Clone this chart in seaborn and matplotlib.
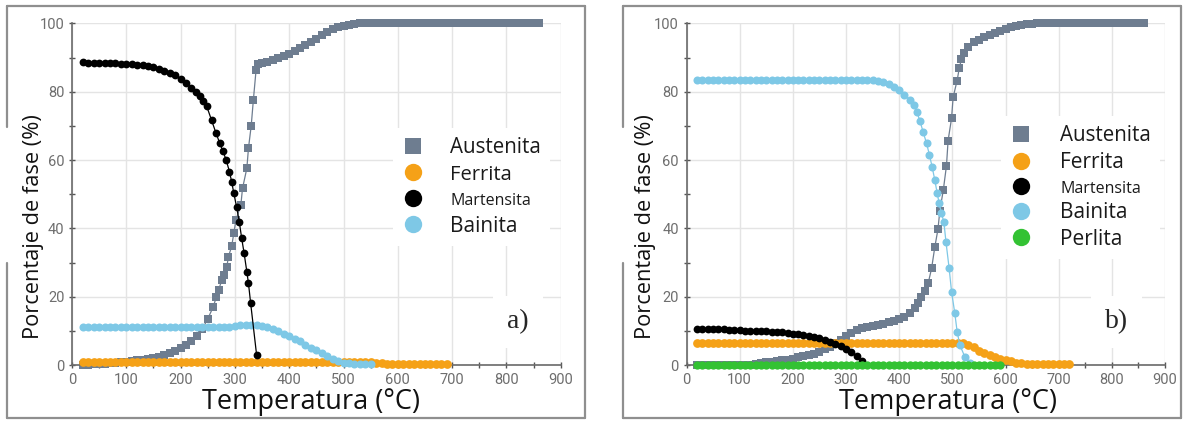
import matplotlib
matplotlib.use("Agg")
import matplotlib.pyplot as plt
import seaborn as sns
import pandas as pd
from matplotlib.lines import Line2D
from matplotlib.ticker import MultipleLocator

# ---------------- Panel a) ----------------
A_T_AUS = [20, 30, 40, 50, 60, 70, 80, 90, 100, 110, 120, 130, 140, 150, 160, 170, 180, 190, 200, 210, 220, 230,
           240, 250, 260, 266, 270, 276, 280, 285, 288, 294, 298, 302, 311, 314, 322, 325, 330, 334, 339, 342,
           350, 360, 370, 380, 390, 400, 410, 420, 430, 440, 450, 460, 470, 480, 490, 500, 510, 520,
           530, 540, 550, 560, 570, 580, 590, 600, 610, 620, 630, 640, 650, 660, 670, 680, 690, 700, 710, 720,
           730, 740, 750, 760, 770, 780, 790, 800, 810, 820, 830, 840, 850, 860]
A_AUS = [0.0, 0.1, 0.2, 0.3, 0.4, 0.5, 0.6, 0.8, 1.0, 1.2, 1.4, 1.6, 1.8, 2.0, 2.4, 2.9, 3.5, 4.2, 5.0, 6.0, 7.0, 8.4,
         10.5, 13.5, 17.0, 20.0, 22.0, 24.9, 26.5, 28.6, 31.7, 34.7, 38.6, 42.5, 46.9, 51.7, 57.6, 63.5, 70.0, 77.6, 86.4, 88.2,
         88.5, 88.8, 89.2, 89.8, 90.5, 91.2, 92.0, 92.8, 93.7, 94.6, 95.6, 96.6, 97.5, 98.3, 99.0, 99.4, 99.7, 99.9,
         100, 100, 100, 100, 100, 100, 100, 100, 100, 100, 100, 100, 100, 100, 100, 100, 100, 100, 100, 100,
         100, 100, 100, 100, 100, 100, 100, 100, 100, 100, 100, 100, 100, 100]

A_T_FER = [20, 30, 40, 50, 60, 70, 80, 90, 100, 110, 120, 130, 140, 150, 160, 170, 180, 190, 200, 210, 220, 230,
           240, 250, 260, 270, 280, 290, 300, 310, 320, 330, 340, 350, 360, 370, 380, 390, 400, 410, 420, 430,
           440, 450, 460, 470, 480, 490, 500, 510, 520, 530, 540, 550, 560, 570, 580, 590, 600, 610, 620, 630,
           640, 650, 660, 670, 680, 690]
A_FER = [1.0, 1.0, 1.0, 1.0, 1.0, 1.0, 1.0, 1.0, 1.0, 1.0, 1.0, 1.0, 1.0, 1.0, 1.0, 1.0, 1.0, 1.0, 1.0, 1.0, 1.0, 1.0,
         1.0, 1.0, 1.0, 1.0, 1.0, 1.0, 1.0, 1.0, 1.0, 1.0, 1.0, 1.0, 1.0, 1.0, 1.0, 1.0, 1.0, 1.0, 1.0, 1.0,
         1.0, 1.0, 1.0, 1.0, 1.0, 1.0, 1.0, 1.0, 1.0, 1.0, 1.0, 0.9, 0.7, 0.5, 0.4, 0.3, 0.3, 0.3, 0.3, 0.3,
         0.3, 0.3, 0.3, 0.3, 0.3, 0.3]

A_T_MAR = [20, 30, 40, 50, 60, 70, 80, 90, 100, 110, 120, 130, 140, 150, 160, 170, 180, 190, 200, 210, 220,
           228, 236, 242, 248, 257, 265, 272, 278, 284, 290, 294, 298, 303, 308, 312.5, 317, 322, 325, 329, 340]
A_MAR = [88.6, 88.5, 88.4, 88.4, 88.4, 88.4, 88.3, 88.2, 88.1, 88.0, 87.9, 87.8, 87.5, 87.2, 86.8, 86.2, 85.6, 84.8,
         83.8, 82.6, 81.2,
         79.8, 78.8, 77.3, 75.8, 71.7, 68.0, 65.0, 62.6, 60.0, 56.6, 53.7, 50.3, 46.4, 42.0, 37.1, 32.7, 27.3, 23.9,
         18.1, 2.9]

A_T_BAI = [20, 30, 40, 50, 60, 70, 80, 90, 100, 110, 120, 130, 140, 150, 160, 170, 180, 190, 200, 210, 220, 230,
           240, 250, 260, 270, 280, 290, 300, 310, 320, 330, 340, 350, 360, 370, 380, 390, 400, 410, 420, 430,
           440, 450, 460, 470, 480, 490, 500, 510, 520, 530, 540, 550]
A_BAI = [11.0, 11.0, 11.0, 11.0, 11.0, 11.0, 11.0, 11.0, 11.0, 11.0, 11.0, 11.0, 11.0, 11.0, 11.0, 11.0, 11.0, 11.0,
         11.0, 11.0, 11.0, 11.0, 11.0, 11.0, 11.0, 11.0, 11.0, 11.2, 11.5, 11.7, 11.8, 11.8, 11.7, 11.4, 11.0, 10.5,
         9.9, 9.2, 8.5, 7.7, 6.9, 6.0, 5.1, 4.3, 3.4, 2.6, 1.9, 1.2, 0.7, 0.5, 0.4, 0.4, 0.4, 0.4]

# ---------------- Panel b) ----------------
B_T_AUS = [20, 30, 40, 50, 60, 70, 80, 90, 100, 110, 120, 130, 140, 150, 160, 170, 180, 190, 200, 210, 220, 230,
           240, 250, 260, 270, 280, 290, 300, 310, 320, 330, 340, 350, 360, 370, 380, 390, 400, 410, 420, 430,
           436, 442, 448, 454.5, 461, 467, 473, 476.5, 483, 489, 492, 498.5, 501.5, 509, 513, 517, 522,
           530, 540, 550, 560, 570, 580, 590, 600, 610, 620, 630, 640, 650, 660, 670, 680, 690, 700, 710, 720,
           730, 740, 750, 760, 770, 780, 790, 800, 810, 820, 830, 840, 850, 860]
B_AUS = [0.0, 0.0, 0.0, 0.0, 0.0, 0.0, 0.0, 0.0, 0.0, 0.0, 0.0, 0.4, 0.6, 0.8, 1.0, 1.2, 1.4, 1.6, 1.9, 2.2, 2.5, 2.9,
         3.3, 3.9, 4.6, 5.4, 6.3, 7.4, 8.4, 9.3, 10.2, 10.8, 11.2, 11.5, 11.8, 12.1, 12.5, 12.9, 13.4, 14.1, 15.1, 16.8,
         18.2, 20.0, 21.8, 23.9, 28.3, 34.5, 39.8, 45.2, 51.2, 58.4, 65.7, 72.2, 78.4, 83.3, 86.9, 89.5, 91.3,
         93.0, 94.5, 95.3, 96.0, 96.6, 97.3, 97.9, 98.4, 98.9, 99.3, 99.6, 99.8, 99.9, 100, 100, 100, 100, 100, 100, 100,
         100, 100, 100, 100, 100, 100, 100, 100, 100, 100, 100, 100, 100, 100]

B_T_FER = [20, 30, 40, 50, 60, 70, 80, 90, 100, 110, 120, 130, 140, 150, 160, 170, 180, 190, 200, 210, 220, 230,
           240, 250, 260, 270, 280, 290, 300, 310, 320, 330, 340, 350, 360, 370, 380, 390, 400, 410, 420, 430,
           440, 450, 460, 470, 480, 490, 500, 510, 520, 530, 540, 550, 560, 570, 580, 590, 600, 610, 620, 630,
           640, 650, 660, 670, 680, 690, 700, 710, 720]
B_FER = [6.5, 6.5, 6.5, 6.5, 6.5, 6.5, 6.5, 6.5, 6.5, 6.5, 6.5, 6.5, 6.5, 6.5, 6.5, 6.5, 6.5, 6.5, 6.5, 6.5, 6.5, 6.5,
         6.5, 6.5, 6.5, 6.5, 6.5, 6.5, 6.5, 6.5, 6.5, 6.5, 6.5, 6.5, 6.5, 6.5, 6.5, 6.5, 6.5, 6.5, 6.5, 6.5,
         6.5, 6.5, 6.5, 6.5, 6.5, 6.5, 6.5, 6.5, 6.5, 6.0, 5.2, 4.2, 3.5, 2.9, 2.3, 1.9, 1.5, 1.1, 0.7, 0.5,
         0.4, 0.3, 0.2, 0.2, 0.2, 0.2, 0.2, 0.2, 0.2]

B_T_MAR = [20, 30, 40, 50, 60, 70, 80, 90, 100, 110, 120, 130, 140, 150, 160, 170, 180, 190, 200, 210, 220, 230,
           240, 250, 260, 270, 280, 290, 300, 310, 320, 330]
B_MAR = [10.5, 10.5, 10.5, 10.4, 10.4, 10.4, 10.3, 10.3, 10.2, 10.1, 10.1, 10.0, 10.0, 9.9, 9.8, 9.7, 9.6, 9.4, 9.2,
         9.0, 8.8, 8.5, 8.2, 7.8, 7.4, 6.8, 6.2, 5.7, 4.7, 3.7, 2.6, 1.3]

B_T_BAI = [20, 30, 40, 50, 60, 70, 80, 90, 100, 110, 120, 130, 140, 150, 160, 170, 180, 190, 200, 210, 220, 230,
           240, 250, 260, 270, 280, 290, 300, 310, 320, 330, 340, 350, 360, 370, 380, 390, 400, 410, 420,
           427, 433, 439, 445, 451.5, 457, 462, 467, 471.5, 475, 479.5, 484, 488, 494, 498.5, 504.7, 509, 514, 523.5, 533]
B_BAI = [83.5, 83.5, 83.5, 83.5, 83.5, 83.5, 83.5, 83.5, 83.5, 83.5, 83.5, 83.5, 83.5, 83.5, 83.5, 83.5, 83.5, 83.5,
         83.5, 83.5, 83.5, 83.5, 83.5, 83.5, 83.5, 83.5, 83.5, 83.5, 83.5, 83.5, 83.5, 83.5, 83.5, 83.4, 83.2, 82.8,
         82.3, 81.5, 80.5, 79.2, 77.6,
         76.0, 74.2, 71.5, 68.3, 64.9, 61.5, 58.0, 54.2, 50.3, 47.5, 44.4, 42.0, 36.1, 28.3, 21.5, 15.1, 9.8, 5.9, 2.4, 0.5]

B_T_PER = [20, 30, 40, 50, 60, 70, 80, 90, 100, 110, 120, 130, 140, 150, 160, 170, 180, 190, 200, 210, 220, 230,
           240, 250, 260, 270, 280, 290, 300, 310, 320, 330, 340, 350, 360, 370, 380, 390, 400, 410, 420, 430,
           440, 450, 460, 470, 480, 490, 500, 510, 520, 530, 540, 550, 560, 570, 580, 590]
B_PER = [0.0, 0.0, 0.0, 0.0, 0.0, 0.0, 0.0, 0.0, 0.0, 0.0, 0.0, 0.0, 0.0, 0.0, 0.0, 0.0, 0.0, 0.0, 0.0, 0.0, 0.0, 0.0,
         0.0, 0.0, 0.0, 0.0, 0.0, 0.0, 0.0, 0.0, 0.0, 0.0, 0.0, 0.0, 0.0, 0.0, 0.0, 0.0, 0.0, 0.0, 0.0, 0.0,
         0.0, 0.0, 0.0, 0.0, 0.0, 0.0, 0.0, 0.0, 0.0, 0.0, 0.0, 0.0, 0.0, 0.0, 0.0, 0.0]

LABELS_A = ["Austenita", "Ferrita", "Martensita", "Bainita"]
LABELS_B = ["Austenita", "Ferrita", "Martensita", "Bainita", "Perlita"]
X_TICKS = [0, 100, 200, 300, 400, 500, 600, 700, 800, 900]
Y_TICKS = [0, 20, 40, 60, 80, 100]

# ---------------- styles ----------------
STY = {
    "Austenita": dict(color="#6e7d90", marker="s", ms=5.4, z=2),
    "Ferrita": dict(color="#f5a117", marker="o", ms=6.3, z=3),
    "Bainita": dict(color="#7ec8e6", marker="o", ms=5.8, z=4),
    "Martensita": dict(color="#000000", marker="o", ms=5.6, z=5),
    "Perlita": dict(color="#33c233", marker="o", ms=6.0, z=6),
}

sns.set_theme(style="white")
plt.rcParams['font.family'] = ['Open Sans', 'DejaVu Sans']

W, H = 1186, 423
fig = plt.figure(figsize=(W / 100, H / 100), dpi=100)
fig.patch.set_facecolor("white")


def make_axes(x0, x1):
    return fig.add_axes([x0 / W, 1 - 365 / H, (x1 - x0) / W, (365 - 23.5) / H])


axA = make_axes(72, 560.7)
axB = make_axes(686.5, 1165)

series_A = {"Austenita": (A_T_AUS, A_AUS), "Ferrita": (A_T_FER, A_FER),
            "Martensita": (A_T_MAR, A_MAR), "Bainita": (A_T_BAI, A_BAI)}
series_B = {"Austenita": (B_T_AUS, B_AUS), "Ferrita": (B_T_FER, B_FER),
            "Martensita": (B_T_MAR, B_MAR), "Bainita": (B_T_BAI, B_BAI), "Perlita": (B_T_PER, B_PER)}


def draw(ax, series):
    for name, (t, v) in series.items():
        s = STY[name]
        df = pd.DataFrame({"T": t, "P": v})
        sns.lineplot(data=df, x="T", y="P", ax=ax, color=s["color"], marker=s["marker"],
                     markersize=s["ms"], markeredgewidth=0, linewidth=0.9, estimator=None,
                     sort=False, legend=False, clip_on=False, zorder=s["z"])


draw(axA, series_A)
draw(axB, series_B)

for ax in (axA, axB):
    ax.set_xlim(0, 900)
    ax.set_ylim(0, 100)
    ax.set_xticks(X_TICKS)
    ax.set_yticks(Y_TICKS)
    ax.xaxis.set_minor_locator(MultipleLocator(50))
    ax.yaxis.set_minor_locator(MultipleLocator(10))
    ax.grid(True, which="major", color="#e4e4e4", linewidth=1.0)
    ax.set_axisbelow(True)
    for sp in ("top", "right"):
        ax.spines[sp].set_visible(False)
    for sp in ("left", "bottom"):
        ax.spines[sp].set_color("#6a6a6a")
        ax.spines[sp].set_linewidth(1.2)
    ax.tick_params(axis="both", which="major", direction="inout", length=5, width=1,
                   color="#555555", labelcolor="#6e6e6e", labelsize=10.5, pad=3,
                   labelfontfamily="Roboto", left=True, bottom=True)
    ax.tick_params(axis="both", which="minor", direction="inout", length=4, width=1,
                   color="#555555", left=True, bottom=True)
    ax.set_xlabel("Temperatura (°C)", fontsize=19.5, va="center", color="#111111")
    ax.set_ylabel("Porcentaje de fase (%)", fontsize=15.7, va="center", color="#111111")
    ax.set_facecolor("white")

axA.xaxis.set_label_coords(0.489, -0.108)
axA.yaxis.set_label_coords(-0.078, 0.405)
axB.xaxis.set_label_coords(0.546, -0.108)
axB.yaxis.set_label_coords(-0.085, 0.405)

axA.text(821, 12.6, "a)", family="Liberation Serif", fontsize=20, ha="center", va="center",
         zorder=8, bbox=dict(boxstyle="square,pad=0.5", fc="white", ec="none"))
axB.text(809, 12.6, "b)", family="Liberation Serif", fontsize=20, ha="center", va="center",
         zorder=8, bbox=dict(boxstyle="square,pad=0.5", fc="white", ec="none"))


def make_legend(ax, labels, anchor, sizes, textpad, spacing):
    handles = [Line2D([], [], linestyle="none", marker=STY[n]["marker"], color=STY[n]["color"],
                      markersize=12.5 if STY[n]["marker"] == "o" else 12, markeredgewidth=0) for n in labels]
    leg = ax.legend(handles, labels, loc="upper left", bbox_to_anchor=anchor, frameon=True,
                    facecolor="white", edgecolor="none", framealpha=1, fancybox=False,
                    fontsize=15, handlelength=1.0, handletextpad=textpad, labelspacing=spacing,
                    borderpad=0.45, borderaxespad=0)
    leg.set_zorder(10)
    for txt, s in zip(leg.get_texts(), sizes):
        txt.set_fontsize(s)
        txt.set_color("#1a1a1a")
    return leg


make_legend(axA, LABELS_A, (0.657, 0.694), [14.8, 14.5, 11.5, 15], 1.3, 0.30)
make_legend(axB, LABELS_B, (0.657, 0.729), [14.8, 15, 11.5, 15, 15], 1.4, 0.26)


# outer frames around each panel
def frame(x0, x1, y0=6, y1=418, gap=(127, 263)):
    kw = dict(color="#8f8f8f", linewidth=1.6, transform=fig.transFigure)
    X = lambda p: p / W
    Y = lambda p: 1 - p / H
    fig.add_artist(Line2D([X(x0), X(x1)], [Y(y0), Y(y0)], **kw))
    fig.add_artist(Line2D([X(x0), X(x1)], [Y(y1), Y(y1)], **kw))
    fig.add_artist(Line2D([X(x1), X(x1)], [Y(y0), Y(y1)], **kw))
    fig.add_artist(Line2D([X(x0), X(x0)], [Y(y0), Y(gap[0])], **kw))
    fig.add_artist(Line2D([X(x0), X(x0)], [Y(gap[1]), Y(y1)], **kw))


frame(7, 585)
frame(623, 1181)

fig.savefig("out.png", dpi=100, facecolor="white")
